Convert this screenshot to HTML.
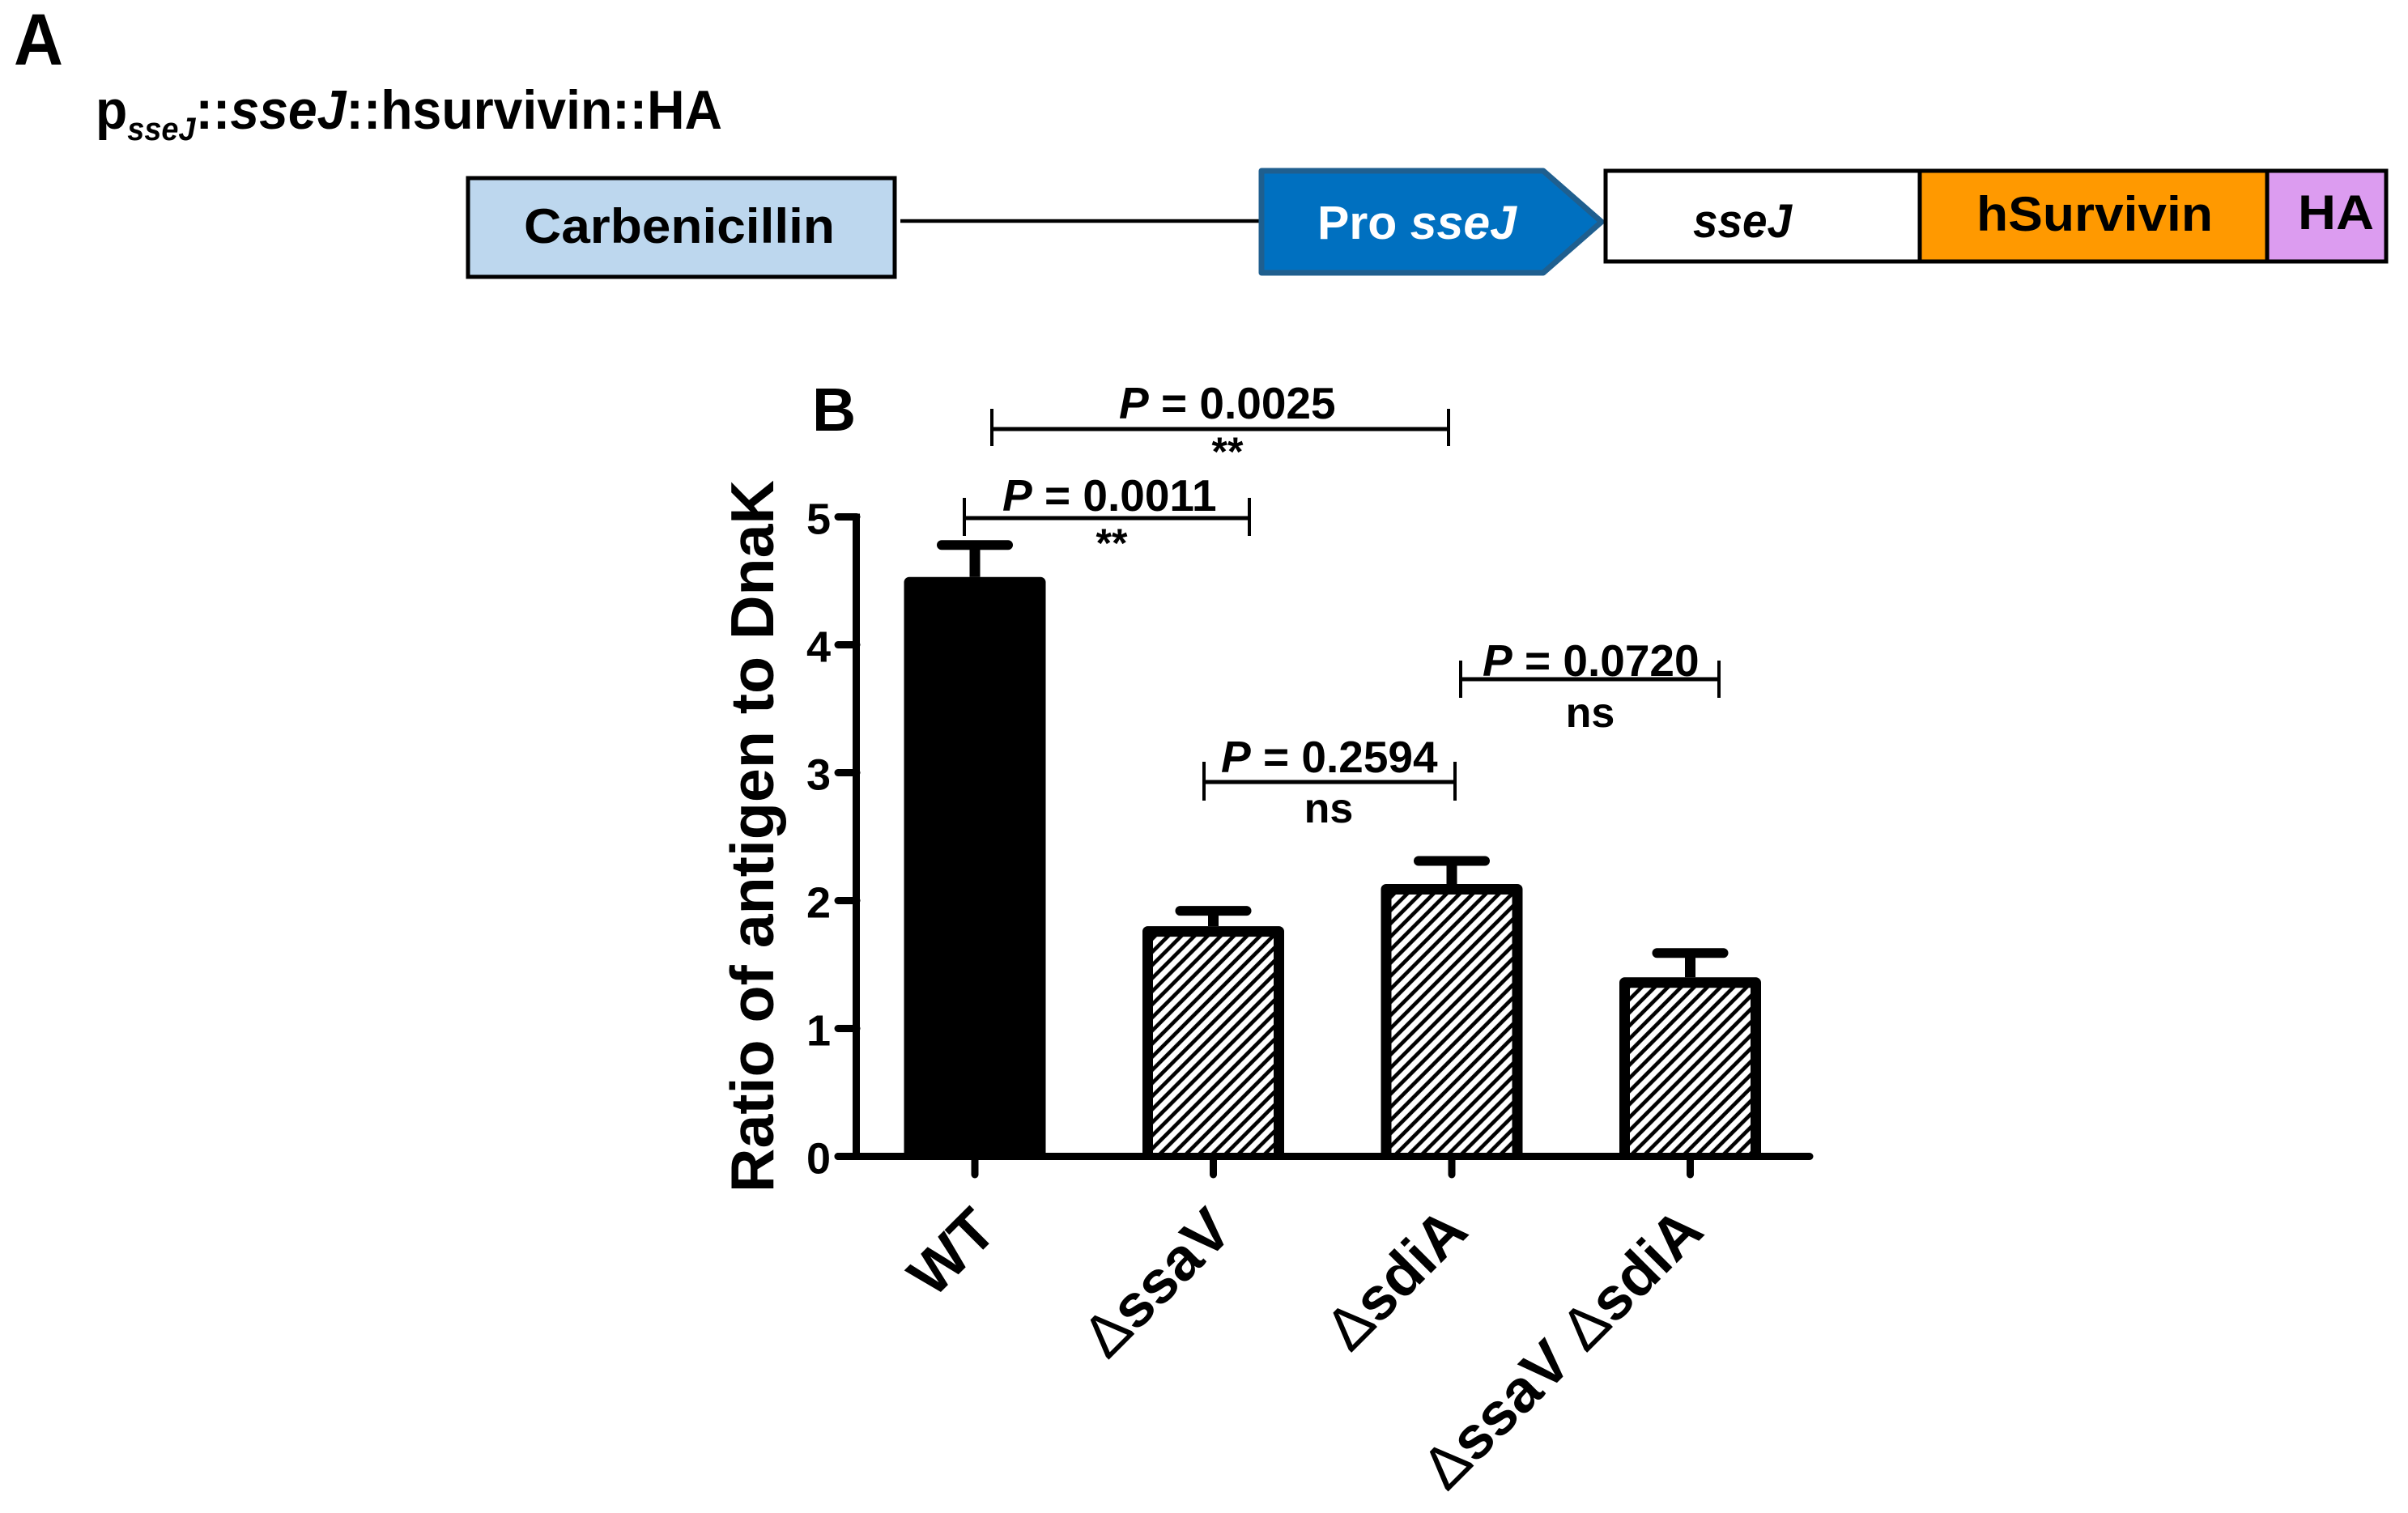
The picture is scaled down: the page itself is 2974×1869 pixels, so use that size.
<!DOCTYPE html>
<html>
<head>
<meta charset="utf-8">
<title>Ratio of antigen to DnaK</title>
<style>
html,body{margin:0;padding:0;background:#fff;width:2974px;height:1869px;overflow:hidden}
svg{display:block}
text{font-family:"Liberation Sans",sans-serif;font-weight:bold;fill:#000}
</style>
</head>
<body>
<svg id="fig" xmlns="http://www.w3.org/2000/svg" width="2974" height="1869" viewBox="0 0 2974 1869">
<defs>
<pattern id="hatch" patternUnits="userSpaceOnUse" width="16" height="16" patternTransform="translate(7 0) scale(1.0125)">
<rect width="16" height="16" fill="#fff"/>
<path d="M-4 4L4 -4M-4 20L20 -4M12 20L20 12" stroke="#000" stroke-width="4.6" fill="none"/>
</pattern>
</defs>
<rect width="2974" height="1869" fill="#fff"/>

<g>
<text x="17" y="80" font-size="90" textLength="61" lengthAdjust="spacingAndGlyphs">A</text>
<text x="118" y="159" font-size="68" textLength="774" lengthAdjust="spacingAndGlyphs">p<tspan font-size="40" font-style="italic" dy="14">sseJ</tspan><tspan dy="-14">::</tspan><tspan font-style="italic">sseJ</tspan>::hsurvivin::HA</text>
<rect x="578" y="220" width="527" height="122" fill="#bdd7ee" stroke="#000" stroke-width="5"/>
<text x="647" y="300" font-size="60" textLength="384" lengthAdjust="spacingAndGlyphs" fill="#0a1a2a">Carbenicillin</text>
<line x1="1112" y1="273" x2="1558" y2="273" stroke="#000" stroke-width="4.5"/>
<path d="M1558 211H1906L1978 274L1906 337H1558Z" fill="#0070c0" stroke="#1f5f8f" stroke-width="7" stroke-linejoin="round"/>
<text x="1627" y="295" font-size="58" fill="#fff" style="fill:#fff" textLength="246" lengthAdjust="spacingAndGlyphs">Pro <tspan font-style="italic" style="fill:#fff">sseJ</tspan></text>
<rect x="1983" y="211" width="388" height="112" fill="#fff" stroke="#000" stroke-width="5"/>
<rect x="2371" y="211" width="429" height="112" fill="#ff9900" stroke="#000" stroke-width="5"/>
<rect x="2800" y="211" width="147" height="112" fill="#dc9cf0" stroke="#000" stroke-width="5"/>
<text x="2091" y="293" font-size="58" font-style="italic" textLength="122" lengthAdjust="spacingAndGlyphs">sseJ</text>
<text x="2441" y="285" font-size="60" textLength="292" lengthAdjust="spacingAndGlyphs">hSurvivin</text>
<text x="2838" y="283" font-size="60" textLength="94" lengthAdjust="spacingAndGlyphs">HA</text>
</g>

<g>
<text x="1003" y="532" font-size="75">B</text>
<text transform="translate(955 1033) rotate(-90)" text-anchor="middle" font-size="75" textLength="880" lengthAdjust="spacingAndGlyphs">Ratio of antigen to DnaK</text>
<g id="plot"></g>

<g>
<path d="M1225 505V551M1789 505V551" stroke="#000" stroke-width="4" fill="none"/>
<line x1="1225" y1="530" x2="1789" y2="530" stroke="#000" stroke-width="5"/>
<text x="1382" y="517" font-size="55"><tspan font-style="italic">P</tspan> = 0.0025</text>
<text x="1516" y="575" font-size="50" text-anchor="middle">**</text>
</g>
<g>
<path d="M1191 615V662M1543 615V662" stroke="#000" stroke-width="4" fill="none"/>
<line x1="1191" y1="640" x2="1543" y2="640" stroke="#000" stroke-width="5"/>
<text x="1238" y="631" font-size="55"><tspan font-style="italic">P</tspan> = 0.0011</text>
<text x="1373" y="688" font-size="50" text-anchor="middle">**</text>
</g>
<g>
<path d="M1487 941V989M1797 941V989" stroke="#000" stroke-width="4" fill="none"/>
<line x1="1487" y1="966" x2="1797" y2="966" stroke="#000" stroke-width="5"/>
<text x="1508" y="954" font-size="55"><tspan font-style="italic">P</tspan> = 0.2594</text>
<text x="1641" y="1016" font-size="52" text-anchor="middle">ns</text>
</g>
<g>
<path d="M1804 816V862M2123 816V862" stroke="#000" stroke-width="4" fill="none"/>
<line x1="1804" y1="839" x2="2123" y2="839" stroke="#000" stroke-width="5"/>
<text x="1831" y="835" font-size="55"><tspan font-style="italic">P</tspan> = 0.0720</text>
<text x="1964" y="898" font-size="52" text-anchor="middle">ns</text>
</g>
</g>
</svg>
<script>
var categories = ["WT", "\u0394ssaV", "\u0394sdiA", "\u0394ssaV \u0394sdiA"];
var seriesMeans = [4.53, 1.80, 2.13, 1.40];
var seriesErrors = [0.25, 0.12, 0.18, 0.19];
var yTickValues = [0, 1, 2, 3, 4, 5];

var NS = "http://www.w3.org/2000/svg";
var plot = document.getElementById("plot");
function yScale(v) { return 1428.5 - 158 * v; }
function xScale(i) { return 1204 + 294.5 * i; }
function labelX(i) { return 1234 + 291 * i; }
function make(tag, attrs) {
  var el = document.createElementNS(NS, tag);
  for (var k in attrs) { el.setAttribute(k, attrs[k]); }
  plot.appendChild(el);
  return el;
}
categories.forEach(function (cat, i) {
  var cx = xScale(i);
  var top = yScale(seriesMeans[i]);
  var capY = yScale(seriesMeans[i] + seriesErrors[i]);
  var base = yScale(0);
  var stem = make("line", { x1: cx, x2: cx, y1: capY, y2: top, stroke: "#000", "stroke-width": 13 });
  
  
  var cap = make("line", { x1: cx - 41, x2: cx + 41, y1: capY, y2: capY, stroke: "#000", "stroke-width": 12, "stroke-linecap": "round" });
  
  
  var bar = make("path", { d: "M" + (cx - 81) + " " + base + "V" + (top + 6.5) + "H" + (cx + 81) + "V" + base, fill: i === 0 ? "#000" : "url(#hatch)", stroke: "#000", "stroke-width": 13, "stroke-linejoin": "round" });
  
  
  var tick = make("line", { x1: cx, x2: cx, y1: base, y2: 1451, stroke: "#000", "stroke-width": 9, "stroke-linecap": "round" });
  
  
  var label = make("text", { "text-anchor": "end", "font-size": 74, transform: "translate(" + labelX(i) + " 1524) rotate(-45)" });
  label.innerHTML = cat.replace(/\u0394/g, '<tspan font-weight="normal">\u0394</tspan>');
  
  
});
var yAxis = make("line", { x1: 1057.5, x2: 1057.5, y1: yScale(5) - 4, y2: yScale(0), stroke: "#000", "stroke-width": 9 });


var xAxis = make("line", { x1: 1035, x2: 2235, y1: yScale(0), y2: yScale(0), stroke: "#000", "stroke-width": 9, "stroke-linecap": "round" });


yTickValues.forEach(function (v) {
  var t = make("line", { x1: 1035, x2: 1058, y1: yScale(v), y2: yScale(v), stroke: "#000", "stroke-width": 9, "stroke-linecap": "round" });
  
  
  var l = make("text", { x: 1026, y: yScale(v) + 21, "text-anchor": "end", "font-size": 54 });
  l.textContent = String(v);
  
  
});
</script>
</body>
</html>
